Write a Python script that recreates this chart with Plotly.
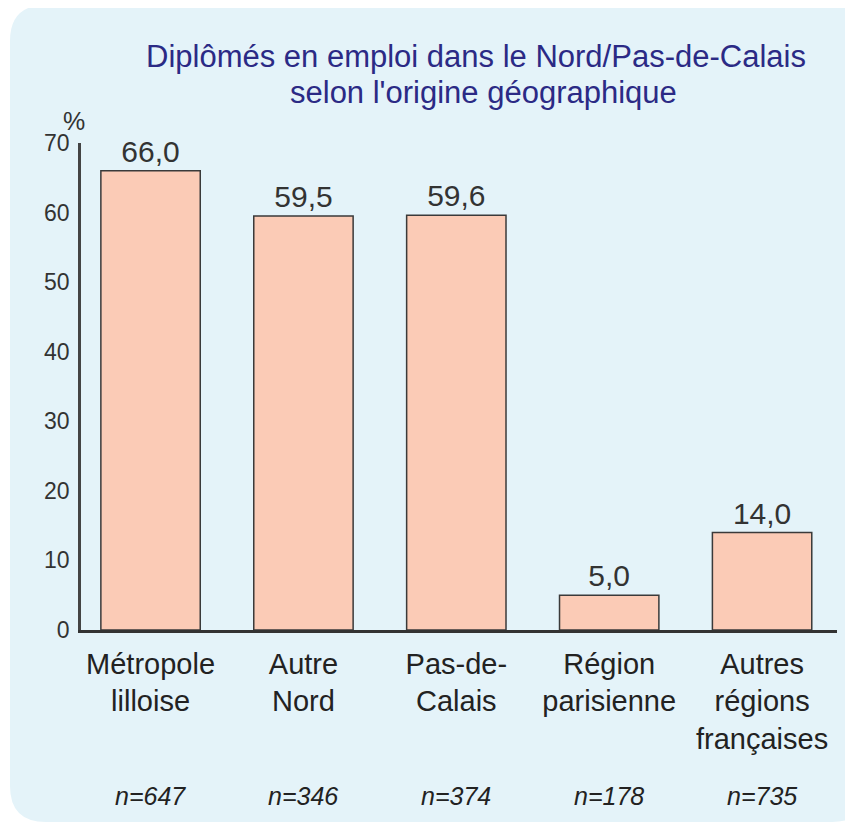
import plotly.graph_objects as go

categories = ["Métropole<br>lilloise", "Autre<br>Nord", "Pas-de-<br>Calais",
              "Région<br>parisienne", "Autres<br>régions<br>françaises"]
values = [66.0, 59.5, 59.6, 5.0, 14.0]
value_labels = ["66,0", "59,5", "59,6", "5,0", "14,0"]
n_labels = ["n=647", "n=346", "n=374", "n=178", "n=735"]
y_ticks = [0, 10, 20, 30, 40, 50, 60, 70]
title_lines = ["Diplômés en emploi dans le Nord/Pas-de-Calais",
               "selon l'origine géographique"]

# the page body has an 8px margin, so the figure is drawn 8px in from the corner
OFF = 8
W, H = 845, 817
L, R, T, B = 73, 16, 135, 195
FONT = "Arial, Liberation Sans, sans-serif"


# page pixel -> paper coordinates
def px(x):
    return (x - OFF - L) / (W - L - R)


def py(y):
    return (H - B - (y - OFF)) / (H - T - B)


# light blue rounded panel behind the chart
x0, x1, y0, y1, r = 10, 868, 5, 822, 36
pts = [("M", x0 + r, y0), ("L", x1 - r, y0), ("Q", x1, y0, x1, y0 + r),
       ("L", x1, y1 - r), ("Q", x1, y1, x1 - r, y1), ("L", x0 + r, y1),
       ("Q", x0, y1, x0, y1 - r), ("L", x0, y0 + r), ("Q", x0, y0, x0 + r, y0)]
path = ""
for p in pts:
    cmd, coords = p[0], p[1:]
    xy = []
    for i in range(0, len(coords), 2):
        xy.append("%.5f,%.5f" % (px(coords[i]), py(coords[i + 1])))
    path += cmd + " " + " ".join(xy) + " "
path += "Z"

fig = go.Figure()
fig.add_trace(go.Bar(
    x=categories, y=values, text=value_labels, textposition="outside",
    width=0.65, cliponaxis=False,
    marker=dict(color="#FBCBB6", line=dict(color="#3a3a3a", width=1.5)),
    textfont=dict(family=FONT, size=30, color="#333333"),
))

annotations = []
for cat, lab in zip(categories, n_labels):
    annotations.append(dict(x=cat, y=py(796), xref="x", yref="paper", text=lab,
                            showarrow=False, xanchor="center", yanchor="middle",
                            font=dict(family=FONT, size=25, color="#222222", style="italic")))
annotations.append(dict(x=px(74), y=py(121), xref="paper", yref="paper", text="%",
                        showarrow=False, xanchor="center", yanchor="middle",
                        font=dict(family=FONT, size=25, color="#333333")))
for line, cx, cy in zip(title_lines, [476, 483], [57, 93]):
    annotations.append(dict(x=px(cx), y=py(cy), xref="paper", yref="paper", text=line,
                            showarrow=False, xanchor="center", yanchor="middle",
                            font=dict(family=FONT, size=31, color="#2B2A85")))

fig.update_layout(
    width=W, height=H,
    margin=dict(l=L, r=R, t=T, b=B),
    paper_bgcolor="white", plot_bgcolor="rgba(0,0,0,0)",
    showlegend=False,
    shapes=[dict(type="path", path=path, xref="paper", yref="paper", layer="below",
                 fillcolor="#E4F3F9", line=dict(width=0))],
    annotations=annotations,
    xaxis=dict(range=[-0.455, 4.49], showline=True, linecolor="#333333", linewidth=2.5,
               ticks="", showgrid=False, zeroline=False, ticklabelstandoff=6,
               tickfont=dict(family=FONT, size=29, color="#222222")),
    yaxis=dict(range=[0, 70], tickvals=y_ticks, showline=True, linecolor="#444444",
               linewidth=2.5, ticks="", showgrid=False, zeroline=False,
               ticklabelstandoff=4, tickfont=dict(family=FONT, size=23, color="#333333")),
)

fig.write_html("out.html")
